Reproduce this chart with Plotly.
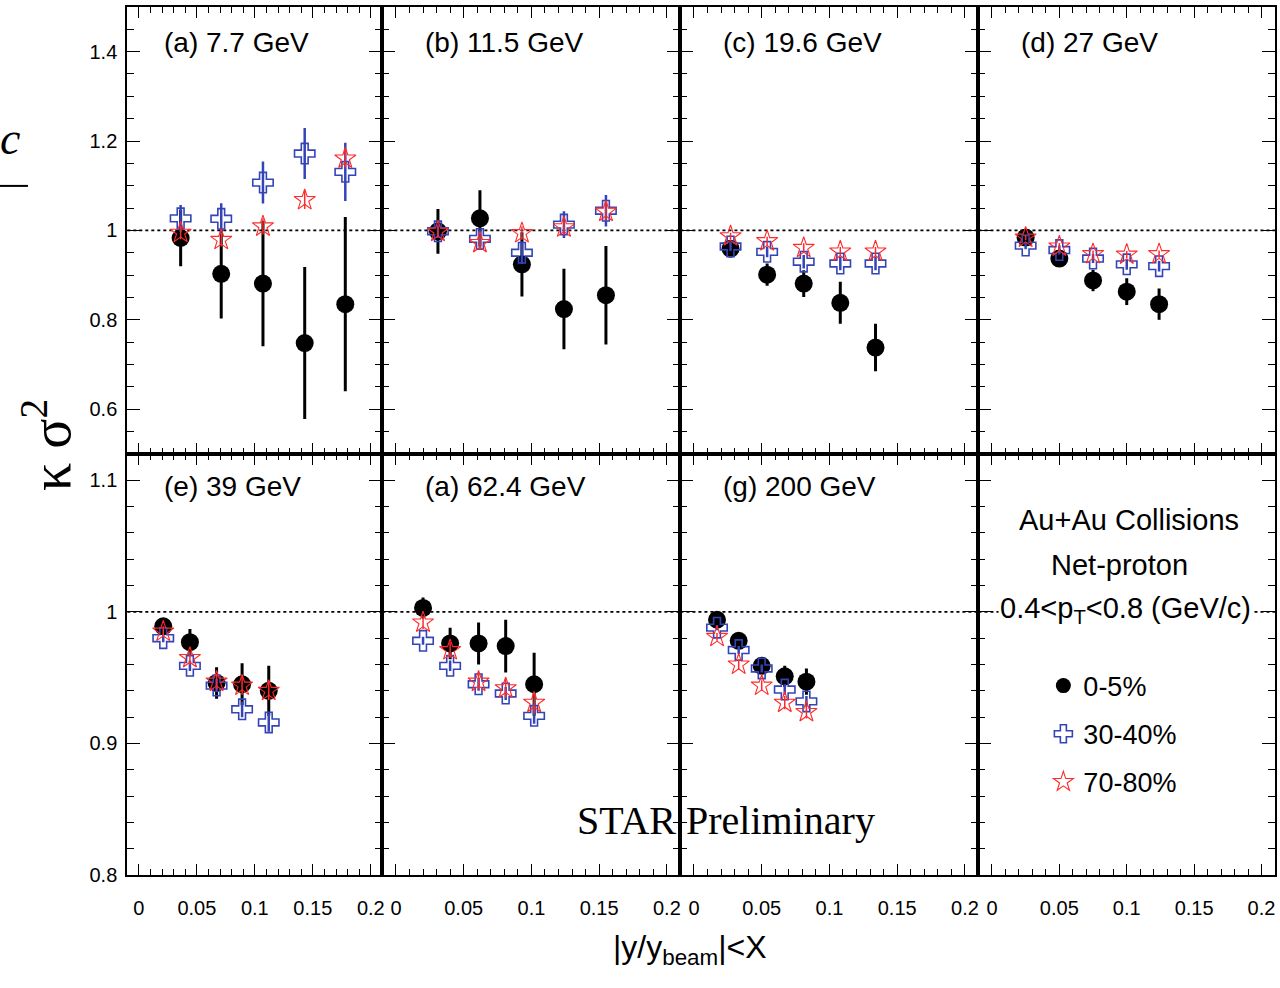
import plotly.graph_objects as go

W, H = 1280, 988

# ---------------- data ----------------
panel_labels = ["(a) 7.7 GeV", "(b) 11.5 GeV", "(c) 19.6 GeV", "(d) 27 GeV",
                "(e) 39 GeV", "(a) 62.4 GeV", "(g) 200 GeV"]

# |y/y_beam| < X  (one list per panel)
x_cut = [
    [0.036, 0.071, 0.107, 0.143, 0.178],
    [0.031, 0.062, 0.093, 0.124, 0.155],
    [0.027, 0.054, 0.081, 0.108, 0.134],
    [0.025, 0.050, 0.075, 0.100, 0.124],
    [0.021, 0.044, 0.067, 0.089, 0.112],
    [0.020, 0.040, 0.061, 0.081, 0.102],
    [0.017, 0.033, 0.050, 0.067, 0.083],
]

# kappa*sigma^2, centrality 0-5%
ks2_0_5 = [
    [0.983, 0.903, 0.881, 0.748, 0.835],
    [0.998, 1.027, 0.924, 0.824, 0.855],
    [0.959, 0.901, 0.881, 0.838, 0.738],
    [0.984, 0.937, 0.888, 0.863, 0.835],
    [0.989, 0.977, 0.946, 0.945, 0.940],
    [1.003, 0.976, 0.976, 0.974, 0.945],
    [0.994, 0.978, 0.959, 0.951, 0.947],
]
err_0_5 = [
    [0.063, 0.100, 0.140, 0.170, 0.195],
    [0.050, 0.063, 0.072, 0.090, 0.110],
    [0.015, 0.025, 0.030, 0.047, 0.053],
    [0.012, 0.018, 0.024, 0.030, 0.035],
    [0.004, 0.010, 0.012, 0.016, 0.019],
    [0.008, 0.012, 0.016, 0.020, 0.024],
    [0.004, 0.005, 0.006, 0.008, 0.010],
]

# centrality 30-40%
ks2_30_40 = [
    [1.027, 1.026, 1.107, 1.172, 1.131],
    [0.998, 0.981, 0.950, 1.013, 1.044],
    [0.964, 0.952, 0.930, 0.926, 0.926],
    [0.966, 0.956, 0.937, 0.924, 0.920],
    [0.980, 0.959, 0.944, 0.926, 0.916],
    [0.978, 0.959, 0.945, 0.938, 0.921],
    [0.988, 0.971, 0.957, 0.941, 0.932],
]
err_30_40 = [
    [0.030, 0.035, 0.047, 0.057, 0.065],
    [0.015, 0.020, 0.025, 0.030, 0.035],
    [0.010, 0.012, 0.015, 0.015, 0.015],
    [0.008, 0.010, 0.010, 0.012, 0.012],
    [0.003, 0.004, 0.005, 0.006, 0.007],
    [0.003, 0.004, 0.005, 0.005, 0.006],
    [0.002, 0.003, 0.003, 0.004, 0.004],
]

# centrality 70-80%
ks2_70_80 = [
    [0.995, 0.979, 1.009, 1.068, 1.161],
    [0.997, 0.972, 0.994, 1.007, 1.042],
    [0.987, 0.976, 0.961, 0.953, 0.953],
    [0.984, 0.964, 0.947, 0.946, 0.947],
    [0.985, 0.965, 0.947, 0.944, 0.940],
    [0.992, 0.971, 0.947, 0.942, 0.931],
    [0.981, 0.960, 0.944, 0.931, 0.924],
]
err_70_80 = [
    [0.015, 0.015, 0.018, 0.020, 0.020],
    [0.012, 0.015, 0.015, 0.018, 0.020],
    [0.008, 0.010, 0.010, 0.010, 0.010],
    [0.006, 0.008, 0.008, 0.008, 0.008],
    [0.004, 0.005, 0.006, 0.007, 0.007],
    [0.005, 0.006, 0.006, 0.007, 0.008],
    [0.003, 0.004, 0.004, 0.005, 0.005],
]

centralities = ["0-5%", "30-40%", "70-80%"]
x_tickvals = [0, 0.05, 0.1, 0.15, 0.2]
x_ticktext = ["0", "0.05", "0.1", "0.15", "0.2"]
y_top_tickvals = [0.6, 0.8, 1.0, 1.2, 1.4]
y_top_ticktext = ["0.6", "0.8", "1", "1.2", "1.4"]
y_bot_tickvals = [0.8, 0.9, 1.0, 1.1]
y_bot_ticktext = ["0.8", "0.9", "1", "1.1"]

# ---------------- layout geometry (pixels) ----------------
col_edges = [127.5, 383, 681.5, 980, 1277]
row_edges = [7, 459, 885]

BLACK = "black"
BLUE = "#3344b8"
RED = "#ff2a2a"
SANS = "Liberation Sans, Arial, sans-serif"
SERIF = "Liberation Serif, Times New Roman, serif"


def py(v):
    return 1 - v / H


fig = go.Figure()
layout = dict(
    width=W, height=H,
    margin=dict(l=0, r=0, t=0, b=0),
    paper_bgcolor="white", plot_bgcolor="white",
    showlegend=True,
    shapes=[], annotations=[],
)

for n in range(8):
    r, c = divmod(n, 4)
    ax = n + 1
    xs = "" if ax == 1 else str(ax)
    xdom = [col_edges[c] / W, col_edges[c + 1] / W]
    ydom = [py(row_edges[r + 1]), py(row_edges[r])]
    layout["xaxis" + xs] = dict(
        domain=xdom, anchor="y" + xs, range=[-0.01, 0.21],
        tickmode="array", tickvals=x_tickvals, ticktext=x_ticktext,
        showticklabels=(r == 1), ticks="inside", ticklen=11, tickwidth=1.2,
        tickcolor="black",
        minor=dict(tickmode="linear", tick0=0, dtick=0.01, ticks="inside",
                   ticklen=6, tickwidth=1, tickcolor="black"),
        showline=True, linecolor="black", linewidth=2, mirror="ticks",
        showgrid=False, zeroline=False, fixedrange=True,
        tickfont=dict(family=SANS, size=20, color="black"),
        ticklabelstandoff=14,
    )
    if r == 0:
        yr, tv, tt, mdt = [0.5, 1.5], y_top_tickvals, y_top_ticktext, 0.05
    else:
        yr, tv, tt, mdt = [0.8, 1.12], y_bot_tickvals, y_bot_ticktext, 0.02
    layout["yaxis" + xs] = dict(
        domain=ydom, anchor="x" + xs, range=yr,
        tickmode="array", tickvals=tv, ticktext=tt,
        showticklabels=(c == 0), ticks="inside", ticklen=13, tickwidth=1.2,
        tickcolor="black",
        minor=dict(tickmode="linear", tick0=0, dtick=mdt, ticks="inside",
                   ticklen=7, tickwidth=1, tickcolor="black"),
        showline=True, linecolor="black", linewidth=2, mirror="ticks",
        showgrid=False, zeroline=False, fixedrange=True,
        tickfont=dict(family=SANS, size=20, color="black"),
        ticklabelstandoff=4,
    )
    # dotted reference line at 1
    layout["shapes"].append(dict(
        type="line", xref="x" + xs + " domain", yref="y" + xs,
        x0=0, x1=1, y0=1, y1=1, layer="below",
        line=dict(color="black", width=1.6, dash="dot")))

series = [
    (ks2_0_5, err_0_5, BLACK, "circle", 18, 3.0, 0),
    (ks2_30_40, err_30_40, BLUE, "cross-open", 17, 2.5, 1.6),
    (ks2_70_80, err_70_80, RED, "star-open", 16, 1.5, 1.1),
]

for p in range(7):
    ax = p + 1
    xs = "" if ax == 1 else str(ax)
    for s, (vals, errs, col, sym, size, ethick, lw) in enumerate(series):
        fig.add_trace(go.Scatter(
            x=x_cut[p], y=vals[p], mode="markers",
            xaxis="x" + xs, yaxis="y" + xs,
            name=centralities[s], showlegend=False,
            marker=dict(symbol=sym, size=size, color=col,
                        line=dict(color=col, width=lw)),
            error_y=dict(type="data", array=errs[p], width=0,
                         thickness=ethick, color=col),
            cliponaxis=False,
        ))
    # panel label
    r = p // 4
    layout["annotations"].append(dict(
        text=panel_labels[p], xref="x" + xs + " domain", yref="paper",
        x=0.1364, y=py(43 if r == 0 else 492),
        xanchor="left", yanchor="middle", showarrow=False,
        font=dict(family=SANS, size=28, color="black")))

# legend-only traces
for s, (vals, errs, col, sym, size, ethick, lw) in enumerate(series):
    fig.add_trace(go.Scatter(
        x=[None], y=[None], mode="markers", xaxis="x8", yaxis="y8",
        name=centralities[s], legendgroup=centralities[s], showlegend=True,
        marker=dict(symbol=sym, size=15, color=col,
                    line=dict(color=col, width=lw if lw else 0)),
    ))

layout["legend"] = dict(
    x=1045 / W, y=py(669), xanchor="left", yanchor="top",
    bgcolor="rgba(0,0,0,0)", borderwidth=0,
    font=dict(family=SANS, size=27, color="black"),
    tracegroupgap=10, itemsizing="trace",
)

# legend panel texts
for txt, xc, yc in [("Au+Au Collisions", 1131, 526),
                    ("Net-proton", 1121, 571),
                    ("0.4&lt;p<sub>T</sub>&lt;0.8 (GeV/c)", 1127, 617)]:
    layout["annotations"].append(dict(
        text=txt, xref="paper", yref="paper", x=xc / W, y=py(yc),
        xanchor="center", yanchor="middle", showarrow=False,
        bgcolor="white" if "GeV" in txt else None,
        font=dict(family=SANS, size=29, color="black")))

# STAR Preliminary
layout["annotations"].append(dict(
    text="STAR Preliminary", xref="paper", yref="paper",
    x=727 / W, y=py(830), xanchor="center", yanchor="middle",
    showarrow=False, font=dict(family=SERIF, size=40, color="black")))

# axis titles
layout["annotations"].append(dict(
    text="|y/y<sub>beam</sub>|&lt;X", xref="paper", yref="paper",
    x=691 / W, y=py(960), xanchor="center", yanchor="middle",
    showarrow=False, font=dict(family=SANS, size=32, color="black")))
layout["annotations"].append(dict(
    text="κ σ<sup>2</sup>", xref="paper", yref="paper",
    x=48 / W, y=py(450), xanchor="center", yanchor="middle",
    textangle=-90, showarrow=False,
    font=dict(family=SERIF, size=56, color="black")))

# cropped artifact at top-left (italic c over a fraction bar)
layout["annotations"].append(dict(
    text="<i>c</i>", xref="paper", yref="paper",
    x=10 / W, y=py(140), xanchor="center", yanchor="middle",
    showarrow=False, font=dict(family=SERIF, size=46, color="black")))
layout["shapes"].append(dict(
    type="line", xref="paper", yref="paper",
    x0=0, x1=28 / W, y0=py(188), y1=py(188),
    line=dict(color="black", width=2)))

fig.update_layout(**layout)
fig.write_html("out.html")
